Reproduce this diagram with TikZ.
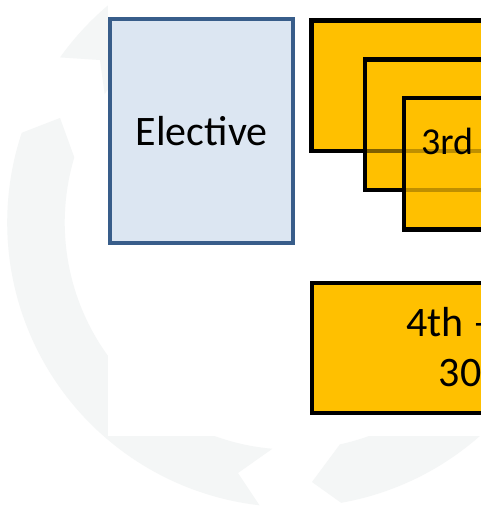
\documentclass[tikz,border=0pt]{standalone}
\usepackage{fontspec}
\setmainfont{Carlito}
\definecolor{ringgray}{RGB}{244,246,246}
\definecolor{elfill}{RGB}{220,230,242}
\definecolor{elline}{RGB}{56,93,138}
\definecolor{gold}{RGB}{255,192,0}
\begin{document}
\begin{tikzpicture}[x=1pt,y=-1pt,
  ringarrow/.style={fill=ringgray, draw=none},
  elbox/.style={draw=elline, fill=elfill, line width=4pt, inner sep=0pt},
  goldbox/.style={draw=black, fill=gold, line width=4.2pt},
  seenline/.style={draw=black, line width=4pt, opacity=#1},
  lbl/.style={inner sep=0pt, anchor=base west, font=\fontsize{42}{50}\selectfont}]
\useasboundingbox (0,0) rectangle (481,506);
\clip (0,0) rectangle (481,506);
\fill[white] (0,0) rectangle (481,506);
% tips and notches of the background ring arrows (screen coordinates)
\coordinate (Atip) at (60,118);
\coordinate (Anotch) at (238,473);
\coordinate (Bnotch) at (100,60);
\coordinate (Ctip) at (312,482);
\begin{scope}[shift={(291.7,222.6)}, yscale=-1]
  \def\Ro{284.5}\def\Ri{227}\def\Rm{255.75}
  % left arrow
  \fill[ringarrow] (263.5:\Ro) arc[start angle=263.5, end angle=161.6, radius=\Ro]
    -- (Atip) -- (163.3:\Ri) arc[start angle=163.3, end angle=265.1, radius=\Ri]
    -- (Anotch) -- cycle;
  % top arrow
  \fill[ringarrow] (144.5:\Ro) arc[start angle=144.5, end angle=42.5, radius=\Ro]
    -- (36:\Rm) -- (42.5:\Ri) arc[start angle=42.5, end angle=145.5, radius=\Ri]
    -- (Bnotch) -- cycle;
  % right arrow
  \fill[ringarrow] (24.5:\Ro) arc[start angle=24.5, end angle=-80, radius=\Ro]
    -- (Ctip) -- (-77.75:\Ri) arc[start angle=-77.75, end angle=24.5, radius=\Ri]
    -- (18:\Rm) -- cycle;
\end{scope}
% white panel over the ring
\fill[white] (108,-5) rectangle (490,436);
% boxes
\node[elbox, minimum width=183.3pt, minimum height=224pt, font=\fontsize{42}{50}\selectfont] (elective) at (201.65,131.3) {Elective};
\draw[goldbox] (311.5,20.5) rectangle (600,150.8);
\draw[goldbox] (364.9,59.5) rectangle (600,190);
\draw[goldbox] (403.9,98.2) rectangle (600,229.5);
\draw[goldbox] (312.2,283.2) rectangle (600,412.8);
% lines seen through the stacked boxes
\draw[seenline=0.5] (367,150.8) -- (401.8,150.8);
\draw[seenline=0.25] (406,150.8) -- (490,150.8);
\draw[seenline=0.25] (406,190) -- (490,190);
% texts
\node[lbl, font=\fontsize{38}{46}\selectfont] (third) at (421,154) {3rd};
\node[lbl] (fourth) at (406,336) {4th –};
\node[lbl] (thirty) at (438.7,386.7) {30};
\end{tikzpicture}
\end{document}
